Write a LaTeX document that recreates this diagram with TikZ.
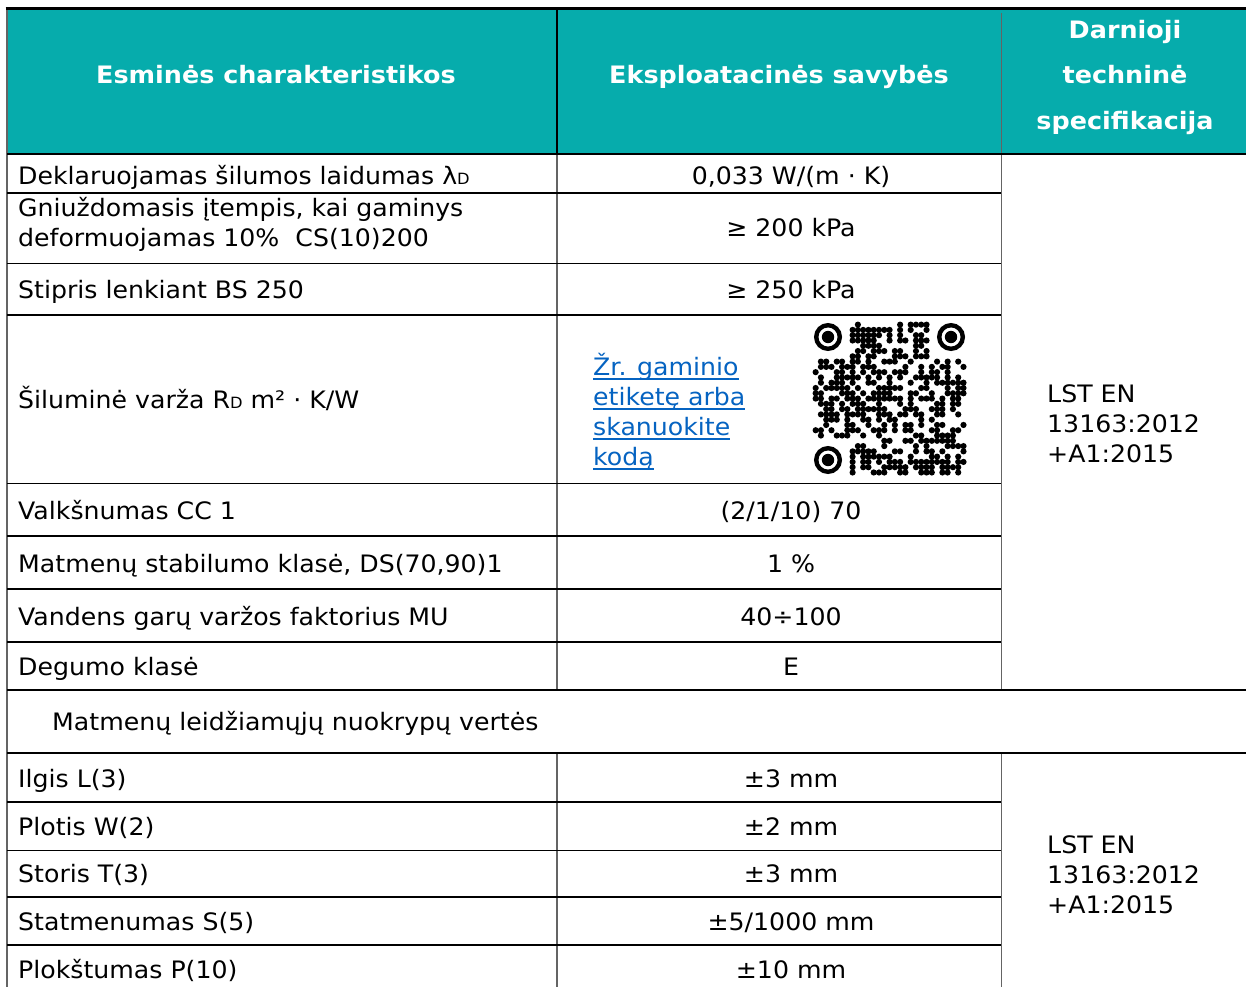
\documentclass[tikz,border=0pt]{standalone}
\usepackage{fontspec}
\setmainfont{DejaVu Sans}[FakeStretch=1.05]
\newfontfamily\headfont{DejaVu Sans}[FakeStretch=1.06]
\definecolor{hdteal}{RGB}{6,172,172}
\definecolor{linkblue}{RGB}{5,99,193}
\definecolor{rulegray}{RGB}{100,100,100}
\newcommand\lnk[1]{\setbox0\hbox{#1}\rlap{\rule[-4pt]{\wd0}{1.4pt}}\box0}
\newcommand\lowcap[1]{{\fontsize{15.5}{15.5}\selectfont #1}}

\begin{document}
\begin{tikzpicture}[x=1pt,y=-1pt,
  every node/.style={font=\fontsize{24}{30}\selectfont},
  txt/.style={anchor=west,inner sep=0pt,text height=17.5pt,text depth=0pt},
  val/.style={txt,anchor=center},
  spec/.style={anchor=west,inner sep=0pt,align=left},
  head/.style={white,inner sep=0pt,align=center,font=\headfont\bfseries\fontsize{24}{45.5}\selectfont},
  hrule/.style={line width=2.4pt},
  lrule/.style={line width=1pt},
  vrule/.style={line width=1.5pt,rulegray}]
\useasboundingbox (0,0) rectangle (1246,987);
\fill[hdteal] (7,9) rectangle (1246,154);

\draw[vrule] (7,9) -- (7,987);
\draw[line width=2pt] (557,9) -- (557,154);
\draw[vrule] (557,154) -- (557,690);
\draw[vrule] (557,753) -- (557,987);
\draw[line width=1pt,rulegray] (1001,13) -- (1001,690);
\draw[line width=1pt,rulegray] (1001,753) -- (1001,987);

\draw[line width=3pt] (5.5,9) -- (1246,9);
\draw[hrule] (7,154) -- (1246,154);
\draw[hrule] (7,193) -- (1001,193);
\draw[lrule] (7,263) -- (1001,263);
\draw[hrule] (7,315) -- (1001,315);
\draw[lrule] (7,483) -- (1001,483);
\draw[hrule] (7,536) -- (1001,536);
\draw[hrule] (7,589) -- (1001,589);
\draw[hrule] (7,642) -- (1001,642);
\draw[hrule] (7,690) -- (1246,690);
\draw[hrule] (7,753) -- (1246,753);
\draw[hrule] (7,802) -- (1001,802);
\draw[lrule] (7,850) -- (1001,850);
\draw[hrule] (7,897) -- (1001,897);
\draw[hrule] (7,945) -- (1001,945);

\node[head,text height=17.5pt,text depth=0pt] (h1) at (276,75) {Esminės charakteristikos};
\node[head,text height=17.5pt,text depth=0pt] (h2) at (779,75) {Eksploatacinės savybės};
\node[head] (h3) at (1125,77) {Darnioji\\techninė\\specifikacija};

\node[txt] (l1) at (18,176) {Deklaruojamas šilumos laidumas λ\lowcap{D}};
\node[spec] (l2) at (18,224) {Gniuždomasis įtempis, kai gaminys\\deformuojamas 10\%\ \ CS(10)200};
\node[txt] (l3) at (18,290) {Stipris lenkiant BS 250};
\node[txt] (l4) at (18,400) {Šiluminė varža R\lowcap{D} m² · K/W};
\node[txt] (l5) at (18,511) {Valkšnumas CC 1};
\node[txt] (l6) at (18,564) {Matmenų stabilumo klasė, DS(70,90)1};
\node[txt] (l7) at (18,617) {Vandens garų varžos faktorius MU};
\node[txt] (l8) at (18,667) {Degumo klasė};
\node[txt] (sec) at (52,722) {Matmenų leidžiamųjų nuokrypų vertės};
\node[txt] (l9) at (18,779) {Ilgis L(3)};
\node[txt] (l10) at (18,827) {Plotis W(2)};
\node[txt] (l11) at (18,874) {Storis T(3)};
\node[txt] (l12) at (18,922) {Statmenumas S(5)};
\node[txt] (l13) at (18,970) {Plokštumas P(10)};

\node[val] (v1) at (791,176) {0,033 W/(m · K)};
\node[val] (v2) at (791,228) {≥ 200 kPa};
\node[val] (v3) at (791,290) {≥ 250 kPa};
\node[spec,linkblue] (link) at (593,412) {\lnk{Žr. gaminio}\\\lnk{etiketę arba}\\\lnk{skanuokite}\\\lnk{kodą}};
\node[val] (v5) at (791,511) {(2/1/10) 70};
\node[val] (v6) at (791,564) {1 \%};
\node[val] (v7) at (791,617) {40÷100};
\node[val] (v8) at (791,667) {E};
\node[val] (v9) at (791,779) {±3 mm};
\node[val] (v10) at (791,827) {±2 mm};
\node[val] (v11) at (791,874) {±3 mm};
\node[val] (v12) at (791,922) {±5/1000 mm};
\node[val] (v13) at (791,970) {±10 mm};

\node[spec] (s1) at (1047,424) {LST EN\\13163:2012\\+A1:2015};
\node[spec] (s2) at (1047,875) {LST EN\\13163:2012\\+A1:2015};

\node[inner sep=0pt,minimum size=153pt] (qr) at (889.5,398.5) {};
\begin{scope}[shift={(813,322)}]
\pgfmathsetseed{23}
\foreach \i in {0,...,28}{
  \foreach \j in {0,...,28}{
    \pgfmathtruncatemacro\on{((\i<7)&&(\j<7))||((\i>21)&&(\j<7))||((\i<7)&&(\j>21)) ? 0 : (rnd<0.56)}
    \ifnum\on>0 \fill (\i*5.28+2.64,\j*5.28+2.64) circle (3.1pt); \fi
  }
}
\foreach \p in {(15,15),(138,15),(15,138)}{
  \draw[line width=4.4pt] \p circle (11.8pt);
  \fill \p circle (6.2pt);
}
\end{scope}
\end{tikzpicture}
\end{document}
